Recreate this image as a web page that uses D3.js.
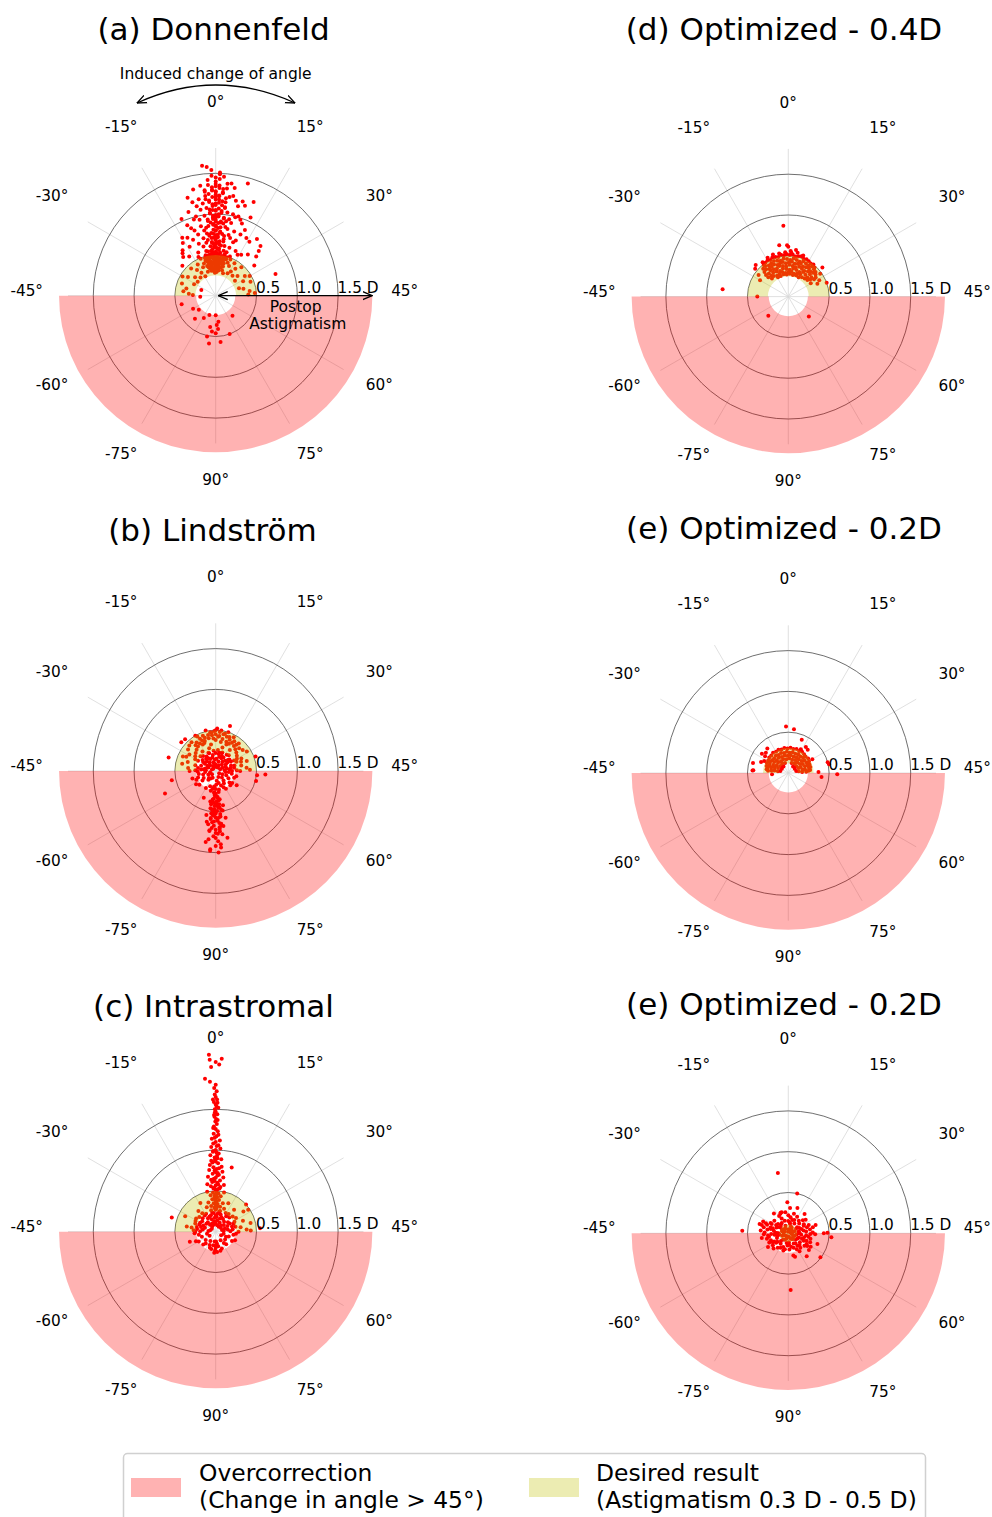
<!DOCTYPE html>
<html>
<head>
<meta charset="utf-8">
<script src="https://cdn.jsdelivr.net/npm/d3@7"></script>
<style>
  body { margin: 0; background: #fff; }
  svg { display: block; }
  text { font-family: "DejaVu Sans", sans-serif; fill: #000; }
</style>
</head>
<body>
<svg id="chart" width="992" height="1517"></svg>
<script>
// Induced change of axis angle (degrees) labelled around each polar plot
const angleTicks = [0, 15, 30, 45, 60, 75, 90, -75, -60, -45, -30, -15];
// Postoperative astigmatism rings (dioptres)
const ringTicks = [0.5, 1.0, 1.5];
const ringLabels = ["0.5", "1.0", "1.5 D"];

const panelTitles = [
  "(a) Donnenfeld", "(b) Lindström", "(c) Intrastromal",
  "(d) Optimized - 0.4D", "(e) Optimized - 0.2D", "(e) Optimized - 0.2D"
];

// Desired-result band per panel [inner D, outer D]
const desiredBands = [[0.25, 0.5], [0.25, 0.5], [0.25, 0.5], [0.25, 0.5], [0.12, 0.31], [0, 0.11]];
// Overcorrection zone (change in angle > 45°) radial extent
const overcorrection = [0.24, 1.92];
const gridMax = 1.81;

const legendLabels = [
  ["Overcorrection", "(Change in angle > 45°)"],
  ["Desired result", "(Astigmatism 0.3 D - 0.5 D)"]
];

// Each case: [induced change of angle (deg), postop astigmatism (D)]
const donnenfeld = [
  [-3,1.60],[-2,1.58],[1,1.51],[-1,1.47],[0,1.45],[2,1.46],[8,1.43],[-1,1.54],[1,1.49],
  [-2,1.42],[0,1.40],[3,1.38],[-4,1.36],[1,1.35],[-1,1.33],[2,1.31],[4,1.39],[-6,1.33],[0,1.37],[5,1.34],[-3,1.30],[1,1.43],[-2,1.36],[3,1.32],
  [-8,1.25],[11,1.24],[-1,1.29],[0,1.27],[2,1.26],[-3,1.23],[4,1.22],[-5,1.20],[6,1.19],[1,1.18],[-2,1.17],[0,1.21],[3,1.15],[-4,1.14],[7,1.13],[-6,1.12],[2,1.11],[-1,1.10],[5,1.24],[-7,1.18],[9,1.16],[0,1.13],[-3,1.28],[1,1.22],[8,1.20],
  [-9,1.08],[-5,1.07],[-2,1.06],[0,1.05],[2,1.04],[4,1.03],[6,1.02],[8,1.01],[-7,1.00],[-4,0.99],[-1,0.98],[1,0.97],[3,0.96],[5,0.95],[10,0.94],[-11,0.93],[-3,0.92],[0,0.91],[2,0.90],[7,0.99],[-6,0.95],[12,1.05],[-8,0.97],[4,0.92],[-2,1.02],[1,1.00],[0,0.96],[-1,0.94],[3,1.08],[6,0.91],[9,0.98],[-12,1.03],
  [-15,0.82],[-18,0.69],[21,0.82],[22,0.76],[23,0.69],[35,0.78],[-10,0.88],[-6,0.87],[-3,0.86],[0,0.85],[2,0.84],[5,0.83],[8,0.82],[11,0.81],[14,0.80],[-13,0.79],[-8,0.78],[-4,0.77],[-1,0.76],[1,0.75],[4,0.74],[7,0.73],[10,0.72],[16,0.78],[-11,0.74],[-6,0.72],[-2,0.71],[0,0.70],[3,0.89],[-5,0.81],[6,0.76],[18,0.86],[-16,0.76],[12,0.88],[-9,0.84],[2,0.79],[-1,0.88],[0,0.80],[1,0.72],[-3,0.74],
  [-20,0.62],[-14,0.68],[-9,0.67],[-5,0.66],[-2,0.65],[0,0.64],[2,0.63],[5,0.62],[8,0.61],[12,0.60],[16,0.59],[-17,0.58],[-11,0.57],[-6,0.56],[-3,0.55],[0,0.54],[3,0.53],[6,0.52],[10,0.51],[14,0.57],[-12,0.52],[-1,0.60],[1,0.58],[4,0.67],[-7,0.62],[19,0.64],[-24,0.55],[9,0.69],[-4,0.51],[0,0.59],[2,0.56],[-2,0.53],[26,0.60],[-19,0.66],[7,0.55],
  [0,1.34],[1,1.32],[-1,1.30],[0,1.28],[2,1.27],[-2,1.25],[0,1.24],[1,1.23],[-1,1.21],[3,1.20],[-3,1.19],[0,1.18],[2,1.16],[-2,1.15],[1,1.14],[-1,1.12],[0,1.11],[3,1.09],[-3,1.08],[1,1.07],[-1,1.05],[0,1.04],[2,1.02],[-2,1.01],[0,0.99],[1,0.98],[-1,0.96],[3,0.95],[-3,0.94],[0,0.93],[2,0.91],[-2,0.90],[1,0.89],[-1,0.87],[0,0.86],[4,0.85],[-4,0.84],[1,0.83],[-1,0.81],[0,0.80],[2,0.78],[-2,0.77],[3,0.76],[-3,0.75],[0,0.74],[1,0.72],[-1,0.71],[4,0.70],[-4,0.69],[0,0.68],[2,0.67],[-2,0.66],[1,0.65],[-1,0.63],[3,0.62],[-3,0.61],[0,0.60],[2,0.58],[-2,0.57],[5,0.56],[-5,0.55],[0,0.53],[1,0.52],[-1,0.51],
  [-3,0.49],[-1,0.48],[1,0.47],[3,0.46],[5,0.45],[-5,0.44],[0,0.43],[2,0.42],[-2,0.41],[4,0.40],[-4,0.39],[0,0.38],[1,0.36],[-1,0.35],[3,0.34],[-3,0.33],[6,0.48],[-6,0.47],[8,0.46],[-8,0.45],[10,0.43],[-10,0.42],[12,0.40],[-12,0.38],[7,0.37],[-7,0.36],[15,0.46],[-15,0.44],[18,0.41],[-18,0.39],[21,0.47],[-21,0.45],[24,0.36],[-24,0.34],[28,0.43],[-28,0.41],[31,0.38],[-31,0.30],[34,0.46],[-35,0.44],[38,0.35],[-38,0.37],[41,0.42],[-41,0.40],[43,0.48],[-43,0.33],[26,0.30],[-26,0.28],[20,0.32],[-20,0.29],[14,0.31],[-14,0.27],[9,0.29],[-9,0.31],[0,0.47],[2,0.44],[-2,0.45],[4,0.49],[-4,0.47],[1,0.40],[-1,0.42],[3,0.38],[-3,0.39],[0,0.50],[5,0.41],[-5,0.36],[11,0.48],[-11,0.49],[16,0.35],[-16,0.33],[30,0.48],[-30,0.47],[36,0.30],[44,0.40],[-44,0.28],
  [-7,0.51],[-5,0.50],[-3,0.51],[2,0.50],[6,0.51],[8,0.49],[-8,0.48],[-6,0.46],[-1,0.46],[1,0.45],[6,0.44],[-7,0.43],[-4,0.42],[4,0.43],[7,0.41],[-6,0.40],[-2,0.39],[2,0.37],[6,0.39],[-8,0.38],[-4,0.36],[5,0.35],[-6,0.34],[0,0.33],[3,0.31],[-2,0.30],[7,0.32],[-5,0.31],[1,0.29],[-1,0.28],
  [-52,0.43],[-69,0.38],[-60,0.32],[-76,0.31],[-85,0.39],[89,0.36],[87,0.32],[-87,0.44],[90,0.46],[-86,0.59],[87,0.57],[-81,0.25],[90,0.24],[70,0.32],[-47,0.19],[-34,0.19],[-65,0.27],[80,0.50],[-84,0.51],[88,0.41]
];

const lindstrom = [
  [0,0.22],[5,0.21],[-5,0.20],[10,0.24],[-10,0.23],[15,0.19],[-15,0.18],[20,0.25],[-20,0.24],[25,0.22],[-25,0.21],[30,0.26],[-30,0.25],[35,0.20],[-35,0.19],[40,0.23],[-40,0.22],[44,0.26],[-44,0.25],[2,0.15],[-2,0.14],[8,0.12],[-8,0.11],[18,0.14],[-18,0.13],[28,0.15],[-28,0.16],[38,0.14],[-38,0.13],[12,0.17],[-12,0.16],[22,0.11],[-22,0.10],[32,0.09],[-32,0.10],[42,0.17],[-42,0.18],[3,0.26],[-3,0.25],[7,0.18],[-7,0.17],[27,0.18],[-27,0.19],[37,0.24],[-37,0.26],[43,0.11],[-43,0.12],[0,0.08],[14,0.08],[-14,0.07],
  [4,0.05],[-6,0.06],[16,0.05],[-24,0.04],[34,0.06],[-34,0.05],[24,0.20],[-16,0.21],[6,0.23],[-6,0.10],[11,0.20],[-19,0.19],[29,0.22],[-29,0.12],[39,0.19],[-41,0.15],[33,0.13],[-11,0.24],[17,0.24],[-23,0.26],[21,0.17],[-21,0.16],
  [50,0.20],[-50,0.21],[55,0.24],[-55,0.23],[60,0.18],[-60,0.17],[65,0.22],[-65,0.26],[70,0.15],[-70,0.14],[75,0.25],[-75,0.24],[80,0.19],[-80,0.20],[85,0.23],[-85,0.22],[89,0.17],[-88,0.26],[48,0.12],[-48,0.13],[58,0.09],[-58,0.10],[68,0.11],[-68,0.12],[78,0.08],[-78,0.09],[87,0.12],[52,0.26],[-53,0.16],[63,0.25],
  [45,0.20],[-46,0.22],[56,0.14],[-63,0.20],[73,0.18],[-73,0.11],[83,0.15],[-83,0.25],[90,0.22],[-66,0.06],[61,0.05],[-51,0.07],[47,0.16],[67,0.25],[-57,0.26],[77,0.22],[86,0.26],[-87,0.19],
  [90,0.28],[-89,0.30],[88,0.32],[-88,0.34],[87,0.36],[-87,0.38],[89,0.40],[-90,0.42],[88,0.44],[-86,0.46],[86,0.48],[-89,0.50],[90,0.52],[-88,0.54],[87,0.56],[-87,0.58],[89,0.60],[-89,0.62],[88,0.64],[-86,0.66],[86,0.68],[-88,0.70],[90,0.72],[-87,0.74],[84,0.585],[88,0.74],[-87,0.84],[-88,0.98],[89,1.00],[-90,0.92],[88,0.94],[-89,0.80],[87,0.78],[-86,0.88],[85,0.83],[-85,0.63],[85,0.49],[-85,0.38],[84,0.43],[-84,0.55],[89,0.31],[-89,0.47],[90,0.57],[87,0.67],[-88,0.27],[86,0.35],[-87,0.52],[88,0.69],[-90,0.76],[89,0.86],[87,0.45],[-86,0.41],
  [-89,0.29],[88,0.33],[-87,0.35],[89,0.37],[-88,0.39],[87,0.41],[-89,0.43],[88,0.45],[-87,0.47],[89,0.49],[-88,0.51],[87,0.53],[-89,0.55],[88,0.57],[-87,0.59],[89,0.61],[-88,0.63],[87,0.65],[-89,0.67],[88,0.71],[-87,0.73],[89,0.77],[-90,0.82],[88,0.90],[-88,0.96],
  [0,0.50],[3,0.48],[-3,0.47],[6,0.46],[-6,0.45],[9,0.44],[-9,0.43],[12,0.42],[-12,0.41],[15,0.40],[-15,0.39],[18,0.38],[-18,0.37],[21,0.36],[-21,0.35],[24,0.34],[-24,0.33],[27,0.32],[-27,0.31],[30,0.30],[-30,0.29],[33,0.28],[-33,0.44],[36,0.40],[-36,0.36],[39,0.32],[-39,0.42],[42,0.38],[-42,0.34],[2,0.42],[-2,0.40],[5,0.36],[-5,0.33],[8,0.30],[-8,0.29],[11,0.35],[-11,0.37],[14,0.47],[-14,0.48],[20,0.44],[-20,0.46],[26,0.42],[-26,0.43],[1,0.52],[9,0.50],[-7,0.51],[17,0.31],[-17,0.29],[29,0.45],[-29,0.38],[35,0.33],[44,0.42],[-45,0.32],[45,0.30],
  [-1,0.49],[4,0.50],[-4,0.48],[7,0.47],[-10,0.46],[11,0.45],[-13,0.44],[16,0.43],[-17,0.42],[19,0.41],[-19,0.40],[0,0.45],[3,0.43],[-3,0.44],[6,0.40],[-6,0.41],[10,0.38],[-10,0.39],[13,0.37],[-13,0.36],[0,0.38],[23,0.40],[-23,0.45],[32,0.35],[-32,0.40],
  [8.8,0.58],[-15,0.50],[-25,0.55],[-37,0.60],[-51,0.55],[-57,0.68],[47,0.61],[48,0.51],[52,0.51],[62,0.31],[-78,0.36],[-62,0.29],[-54,0.30],[-22,0.54],[35,0.52]
];

const intrastromal = [
  [-1.1,2.17],[-1,2.11],[0,2.08],[1,2.12],[-0.8,2.02],[-2,1.88],[-1.1,1.84],[0.6,2.05],
  [0,1.80],[-0.3,1.76],[0.2,1.72],[-0.2,1.68],[0,1.65],[0.3,1.62],[-0.4,1.59],[0,1.56],[0.2,1.53],[-0.2,1.50],[0,1.47],[0.4,1.44],[-0.3,1.41],[0.1,1.38],[-0.1,1.35],[0.3,1.32],[-0.5,1.29],[0,1.26],[0.6,1.23],[-0.6,1.20],[0.2,1.17],[-1.2,1.14],[1.3,1.12],[0,1.10],[-0.8,1.08],[0.9,1.06],[-1.5,1.04],[1.6,1.02],[0,1.00],[-1,0.98],[1.1,0.96],[-2,0.94],[0.5,0.93],[-0.4,0.91],[2.2,0.89],[-1.8,0.87],[0,0.86],[1,0.84],[-2.5,0.82],[2.6,0.80],[7,0.81],[-1,0.79],[0.5,0.77],[-3,0.76],[3.2,0.74],[0,0.73],[-1.5,0.71],[1.6,0.70],[-4,0.68],[4,0.67],[0,0.66],[-2.5,0.64],[2.4,0.63],[-0.6,0.62],[1,0.60],[-5,0.59],[5,0.58],[0,0.57],[-3,0.56],[3,0.55],[-1,0.54],[1.2,0.52],[0,0.51],[-6,0.50],[6,0.49],[-2,0.48],[2,0.47],[0,0.46],[-4,0.45],[4,0.44],[-1,0.43],[1,0.42],[0,0.41],[-3,0.40],[3,0.39],[0,0.38],[-7,0.37],[7,0.36],[-2,0.35],[2,0.34],[0,0.33],[-5,0.32],[5,0.31],[-1,0.30],[1,0.29],[0,0.28],
  [0.4,1.58],[-0.2,1.46],[0.5,1.37],[-0.7,1.27],[0.8,1.19],[-0.3,1.15],[0.3,1.05],[-0.9,0.99],[0.7,0.90],[-1.3,0.85],[1.5,0.78],[-0.5,0.75],[0.9,0.69],[-2,0.61],[2.5,0.53],[-0.6,1.62],[0.6,1.52],[-0.4,1.43],
  [1,0.72],[-1,0.65],[1.5,0.58],[-1.5,0.53],[0.5,0.49],[-0.5,0.45],[1,0.43],[-1,0.40],[0.5,0.37],[-0.5,0.34],[1.5,0.31],[-1.5,0.29],[0,0.27],[0.3,0.97],[-0.3,0.88],
  [0,0.20],[8,0.22],[-8,0.21],[15,0.18],[-15,0.19],[22,0.24],[-22,0.23],[30,0.20],[-30,0.22],[38,0.25],[-38,0.24],[44,0.18],[-44,0.19],[4,0.14],[-4,0.13],[12,0.12],[-12,0.11],[25,0.13],[-25,0.15],[35,0.12],[-35,0.14],[42,0.10],[-42,0.09],[0,0.10],[18,0.27],[-18,0.28],[28,0.30],[-28,0.29],[40,0.31],[-40,0.30],[10,0.30],[-10,0.32],[34,0.36],[-34,0.27],[20,0.35],[-20,0.33],[43,0.38],[-43,0.27],[27,0.42],[38,0.44],[24,0.50],[28,0.48],[-31.5,0.42],[-36,0.566],[42.8,0.545],[44,0.43],[-40,0.36],[12,0.38],[-14,0.40],[6,0.26],[-6,0.27],[2,0.18],[-2,0.17],[32,0.16],[-32,0.17],[16,0.07],[-16,0.08],[40,0.15],[-40,0.16],[45,0.28],[-45,0.25],[20,0.16],[-20,0.15],[26,0.08],[-26,0.06],[9,0.17],[-9,0.16],[36,0.21],[-36,0.19],
  [3,0.22],[-3,0.23],[11,0.19],[-11,0.20],[17,0.23],[-17,0.24],[26,0.19],[-26,0.21],[33,0.24],[-33,0.22],[41,0.21],[-41,0.23],[7,0.08],[-7,0.09],[20,0.10],[-20,0.11],[37,0.08],[-37,0.07],[5,0.25],[-5,0.24],[14,0.26],[-14,0.25],[24,0.28],[-24,0.27],[31,0.26],[-31,0.28],
  [50,0.22],[-50,0.21],[55,0.17],[-55,0.18],[60,0.23],[-60,0.24],[65,0.15],[-65,0.16],[70,0.20],[-70,0.19],[75,0.12],[-75,0.13],[80,0.22],[-80,0.21],[85,0.18],[-85,0.17],[88,0.25],[-88,0.26],[90,0.20],[-89,0.23],[87,0.15],[-87,0.12],[52,0.10],[-52,0.11],[62,0.08],[-62,0.09],[-55.6,0.34],[48,0.25],[-47,0.26],[57,0.26],[-58,0.27],
  [58,0.14],[-68,0.22],[72,0.17],[-78,0.18],[83,0.24],[-83,0.22],[89,0.12],[90,0.24],[-90,0.17]
];

const optimized04 = [
  [-19,0.49],[-17,0.50],[-15,0.51],[-13,0.50],[-11,0.52],[-9,0.51],[-7,0.50],[-5,0.52],[-3,0.51],[-1,0.52],[1,0.51],[3,0.52],[5,0.50],[7,0.51],[9,0.52],[11,0.50],[13,0.51],[15,0.50],[17,0.49],[19,0.50],[21,0.48],
  [-21,0.46],[-18.5,0.47],[-16,0.45],[-13.5,0.46],[-11,0.47],[-8.5,0.46],[-6,0.45],[-3.5,0.47],[-1,0.46],[1.5,0.45],[4,0.47],[6.5,0.46],[9,0.45],[11.5,0.47],[14,0.46],[16.5,0.45],[19,0.47],[21.5,0.46],[24,0.45],
  [-22,0.42],[-19.5,0.43],[-17,0.41],[-14.5,0.42],[-12,0.43],[-9.5,0.41],[-7,0.42],[-4.5,0.43],[-2,0.41],[0.5,0.42],[3,0.43],[5.5,0.41],[8,0.42],[10.5,0.43],[13,0.41],[15.5,0.42],[18,0.43],[20.5,0.41],[23,0.42],[25.5,0.43],[27.5,0.41],
  [-23,0.38],[-20,0.37],[-17,0.39],[-14,0.38],[-11,0.37],[-8,0.39],[-5,0.38],[-2,0.37],[1,0.39],[4,0.38],[7,0.37],[10,0.39],[13,0.38],[16,0.37],[19,0.39],[22,0.38],[25,0.37],[28,0.38],
  [-23,0.34],[-19.5,0.33],[-16,0.35],[-12.5,0.34],[-9,0.33],[-5.5,0.35],[-2,0.34],[1.5,0.33],[5,0.35],[8.5,0.34],[12,0.33],[15.5,0.35],[19,0.34],[22.5,0.33],[26,0.34],
  [-21,0.30],[-17.5,0.31],[-14,0.29],[-10.5,0.30],[-7,0.31],[-3.5,0.29],[0,0.30],[3.5,0.31],[7,0.29],[10.5,0.30],[14,0.31],[17.5,0.29],[21,0.30],[24.5,0.31],
  [-14,0.27],[-10,0.27],[-6,0.28],[-2,0.27],[2,0.28],[6,0.27],[10,0.28],[14,0.27],
  [-14,0.54],[-10,0.55],[-6,0.54],[-2,0.545],[2,0.54],[6,0.55],[10,0.535],
  [-2,0.87],[-5,0.64],[-0.7,0.63],[0,0.61],[1.5,0.56],[4.7,0.58],[-41.8,0.81],[-45,0.38],[-67,0.34],[67,0.35],[-22.9,0.557],[-25,0.53],[-18.4,0.525],[24.7,0.55],[27.2,0.48],[35,0.50],[29.7,0.32],[-27,0.45],[31,0.43],[-30,0.40],[33,0.39]
];

const optimized02 = [
  [-40,0.27],[-36,0.28],[-32.5,0.29],[-29,0.29],[-25.5,0.30],[-22,0.30],[-18.5,0.31],[-15,0.30],[-11.5,0.31],[-8,0.30],[-4.5,0.31],[-1,0.30],[2.5,0.31],[6,0.30],[9.5,0.31],[13,0.30],[16.5,0.31],[20,0.30],[23.5,0.29],[27,0.30],[30.5,0.29],[34,0.28],[37.5,0.28],[41,0.27],
  [-42,0.25],[-38,0.26],[-34,0.25],[-30,0.26],[-26,0.255],[-22,0.25],[-18,0.26],[-14,0.25],[-10,0.26],[-6,0.25],[-2,0.26],[2,0.25],[6,0.26],[10,0.25],[14,0.26],[18,0.25],[22,0.26],[26,0.25],[30,0.26],[34,0.25],[38,0.26],[42,0.25],
  [-41,0.21],[-36,0.22],[-31,0.21],[-26,0.22],[-21,0.21],[-16,0.22],[-11,0.21],[-6,0.22],[-1,0.21],[4,0.22],[9,0.21],[14,0.22],[19,0.21],[24,0.22],[29,0.21],[34,0.22],[39,0.21],[43,0.22],
  [-40,0.17],[-34,0.18],[-28,0.17],[-22,0.18],[-16,0.17],[-10,0.18],[-4,0.17],[2,0.18],[8,0.17],[14,0.18],[20,0.17],[26,0.18],[32,0.17],[38,0.18],[43,0.17],
  [-40,0.13],[-32,0.14],[-24,0.13],[-16,0.14],[-9,0.13],[9,0.13],[16,0.14],[24,0.13],[32,0.14],[40,0.13],
  [-38,0.10],[-28,0.095],[-18,0.10],[18,0.10],[28,0.095],[38,0.10],
  [-1.4,0.57],[3.7,0.54],[11,0.44],[17,0.385],[13.8,0.33],[-20.3,0.395],[-27,0.40],[-27.2,0.35],[-31.8,0.33],[-37,0.45],[-42.8,0.43],[-43,0.44],[-47.2,0.20],[37.4,0.50],[44,0.37],[48.4,0.41],[45.8,0.60],[39,0.51],[-24,0.37],[20,0.37],[-34,0.36],[30,0.34]
];

const optimized02b = [
  [0,0.05],[20,0.06],[-20,0.07],[40,0.05],[-40,0.06],[60,0.07],[-60,0.05],[80,0.06],[-80,0.07],[90,0.04],[10,0.09],[-10,0.10],[30,0.11],[-30,0.09],[50,0.10],[-50,0.11],[70,0.09],[-70,0.10],[88,0.11],[5,0.12],[-25,0.12],[45,0.12],[-45,0.12],[65,0.12],[-85,0.12],[35,0.03],[-5,0.02],
  [12,0.04],[-32,0.05],[52,0.04],[-72,0.04],[76,0.08],[-76,0.09],[56,0.08],[-56,0.08],[16,0.08],[-16,0.07],[36,0.08],[-36,0.08],
  [0,0.15],[8,0.17],[-8,0.16],[16,0.14],[-16,0.15],[24,0.18],[-24,0.17],[32,0.15],[-32,0.16],[40,0.19],[-40,0.18],[48,0.16],[-48,0.17],[56,0.14],[-56,0.15],[64,0.18],[-64,0.17],[72,0.15],[-72,0.16],[80,0.19],[-80,0.18],[88,0.14],[-88,0.15],[4,0.20],[-12,0.20],[20,0.20],[-36,0.20],[44,0.14],[-44,0.14],[52,0.20],[-60,0.20],[68,0.20],[-76,0.20],[84,0.17],[28,0.13],[-28,0.13],
  [4,0.13],[-20,0.14],[40,0.13],[-52,0.14],[60,0.13],[-68,0.13],[76,0.14],[12,0.18],[-28,0.18],[36,0.17],[-44,0.16],[56,0.18],[-64,0.19],[72,0.19],[-84,0.20],[88,0.20],[32,0.21],[-38,0.22],[42,0.22],[-46,0.21],[50,0.25],[-50,0.24],[58,0.21],[-58,0.26],[34,0.27],[-34,0.28],[46,0.27],[-46,0.30],[62,0.28],[-62,0.30],[74,0.26],[-72,0.22],[24,0.24],[-24,0.23],
  [36,0.24],[-36,0.23],[40,0.27],[-40,0.26],[44,0.30],[-44,0.29],[48,0.22],[-48,0.25],[52,0.28],[-52,0.27],[56,0.24],[-56,0.23],[60,0.26],[-60,0.22],[30,0.22],[-30,0.25],[26,0.27],[-33,0.30],[46,0.33],[-42,0.34],[38,0.31],[64,0.25],[-64,0.24],[14,0.23],[-14,0.24],[0,0.22],[-4,0.26],[8,0.25],[70,0.23],[-68,0.26],[76,0.22],[-82,0.22],
  [-4.9,0.75],[6.3,0.50],[-0.9,0.38],[9.9,0.33],[-10.3,0.27],[-11,0.26],[-43.4,0.565],[-32.5,0.34],[63.3,0.49],[70.6,0.36],[82,0.30],[88.8,0.695],[47.6,0.53],[44.6,0.48],[45,0.435],[60.5,0.32],[36.5,0.35],[64.5,0.325],[-38,0.31],[-36,0.37],[20,0.31],[-18,0.30],[55,0.38],[-50,0.33],
  [2,0.31],[-8.7,0.27],[-30.3,0.233],[-36.3,0.34],[83.6,0.28],[56.2,0.29]
];

const caseSets = [donnenfeld, lindstrom, intrastromal, optimized04, optimized02, optimized02b];

// Panel placement on the page
const panels = [
  { cx: 215.7, cy: 295.7, titleX: 213.5, titleY: 40 },
  { cx: 215.7, cy: 771, titleX: 212.5, titleY: 541 },
  { cx: 215.7, cy: 1231.7, titleX: 213.5, titleY: 1016.5 },
  { cx: 788.3, cy: 296.6, titleX: 784, titleY: 39.5 },
  { cx: 788.3, cy: 773, titleX: 784, titleY: 539 },
  { cx: 788.3, cy: 1233.3, titleX: 784, titleY: 1015 }
];

const PINK = "rgba(255,0,0,0.3)";
const YELLOW = "rgba(191,191,0,0.3)";

const svg = d3.select("#chart");
svg.append("rect").attr("width", 992).attr("height", 1517).attr("fill", "#fff");

// Arrowhead used by the annotations
const defs = svg.append("defs");
defs.append("marker")
  .attr("id", "head").attr("viewBox", "0 0 10 10")
  .attr("refX", 9.5).attr("refY", 5)
  .attr("markerWidth", 10).attr("markerHeight", 10)
  .attr("markerUnits", "userSpaceOnUse")
  .attr("orient", "auto-start-reverse")
  .append("path").attr("d", "M0,1 L9.5,5 L0,9")
  .attr("fill", "none").attr("stroke", "#000").attr("stroke-width", 1.3);

// Radial scale: dioptres -> pixels
const rScale = d3.scaleLinear().domain([0, 1.5]).range([0, 122.4]);
// Double-angle representation: induced change of angle -> plot angle (radians, clockwise from top)
const thetaScale = d3.scaleLinear().domain([-90, 90]).range([-Math.PI, Math.PI]);
const arc = d3.arc();
const LABEL_R = 189;

panels.forEach((p, i) => {
  svg.append("text")
    .attr("x", p.titleX).attr("y", p.titleY)
    .attr("text-anchor", "middle")
    .attr("font-size", 31)
    .text(panelTitles[i]);

  const g = svg.append("g").attr("transform", `translate(${p.cx},${p.cy})`);

  // grid: spokes every 15° of induced change, rings at 0.5 D steps
  g.selectAll("line.spoke").data(angleTicks).join("line")
    .attr("class", "spoke")
    .attr("x1", 0).attr("y1", 0)
    .attr("x2", d => d3.pointRadial(thetaScale(d), rScale(gridMax))[0])
    .attr("y2", d => d3.pointRadial(thetaScale(d), rScale(gridMax))[1])
    .attr("stroke", "#d8d8d8").attr("stroke-width", 0.8);

  g.selectAll("circle.ring").data(ringTicks).join("circle")
    .attr("class", "ring")
    .attr("r", d => rScale(d))
    .attr("fill", "none").attr("stroke", "#4a4a4a").attr("stroke-width", 0.8);

  // overcorrection zone: lower half of the plot
  g.append("path")
    .attr("d", arc({ innerRadius: rScale(overcorrection[0]), outerRadius: rScale(overcorrection[1]),
                     startAngle: Math.PI / 2, endAngle: 3 * Math.PI / 2 }))
    .attr("fill", PINK);

  // individual cases
  g.selectAll("circle.case").data(caseSets[i]).join("circle")
    .attr("class", "case")
    .attr("cx", d => d3.pointRadial(thetaScale(d[0]), rScale(d[1]))[0])
    .attr("cy", d => d3.pointRadial(thetaScale(d[0]), rScale(d[1]))[1])
    .attr("r", 2)
    .attr("fill", "#ff0000");

  // desired-result band
  const band = desiredBands[i];
  const full = band[0] === 0;
  g.append("path")
    .attr("d", arc({ innerRadius: rScale(band[0]), outerRadius: rScale(band[1]),
                     startAngle: full ? 0 : -Math.PI / 2, endAngle: full ? 2 * Math.PI : Math.PI / 2 }))
    .attr("fill", YELLOW);

  // angle labels
  g.selectAll("text.ang").data(angleTicks).join("text")
    .attr("class", "ang")
    .attr("x", d => d3.pointRadial(thetaScale(d), LABEL_R)[0])
    .attr("y", d => d3.pointRadial(thetaScale(d), LABEL_R)[1] - 5)
    .attr("text-anchor", "middle").attr("dominant-baseline", "central")
    .attr("font-size", 15.3)
    .text(d => `${d}°`);

  // ring labels
  g.selectAll("text.rl").data(ringTicks).join("text")
    .attr("class", "rl")
    .attr("x", d => rScale(d) - 0.5).attr("y", -3)
    .attr("font-size", 15.3)
    .text((d, k) => ringLabels[k]);

  if (i === 0) {
    g.append("text").attr("x", 0).attr("y", -216.7)
      .attr("text-anchor", "middle").attr("font-size", 15.5)
      .text("Induced change of angle");
    g.append("path")
      .attr("d", "M-78.7,-192.7 Q0,-228.7 79.3,-192.7")
      .attr("fill", "none").attr("stroke", "#000").attr("stroke-width", 1.3)
      .attr("marker-start", "url(#head)").attr("marker-end", "url(#head)");
    g.append("line")
      .attr("x1", 2.5).attr("y1", 0).attr("x2", 156.5).attr("y2", 0)
      .attr("stroke", "#000").attr("stroke-width", 1.3)
      .attr("marker-start", "url(#head)").attr("marker-end", "url(#head)");
    g.append("text").attr("x", 80).attr("y", 16.5)
      .attr("text-anchor", "middle").attr("font-size", 15.5).text("Postop");
    g.append("text").attr("x", 82).attr("y", 33)
      .attr("text-anchor", "middle").attr("font-size", 15.5).text("Astigmatism");
  }
});

// legend
const lg = svg.append("g");
lg.append("rect").attr("x", 123.5).attr("y", 1453.5).attr("width", 802).attr("height", 90)
  .attr("rx", 4).attr("fill", "#fff").attr("stroke", "#d0d0d0").attr("stroke-width", 1.5);
const legendItems = [
  { fill: PINK, x: 131, tx: 199 },
  { fill: YELLOW, x: 529, tx: 596 }
];
legendItems.forEach((it, k) => {
  lg.append("rect").attr("x", it.x).attr("y", 1478).attr("width", 50).attr("height", 19).attr("fill", it.fill);
  lg.append("text").attr("x", it.tx).attr("y", 1480.5).attr("font-size", 23.4).text(legendLabels[k][0]);
  lg.append("text").attr("x", it.tx).attr("y", 1507.5).attr("font-size", 23.4).text(legendLabels[k][1]);
});
</script>
</body>
</html>
